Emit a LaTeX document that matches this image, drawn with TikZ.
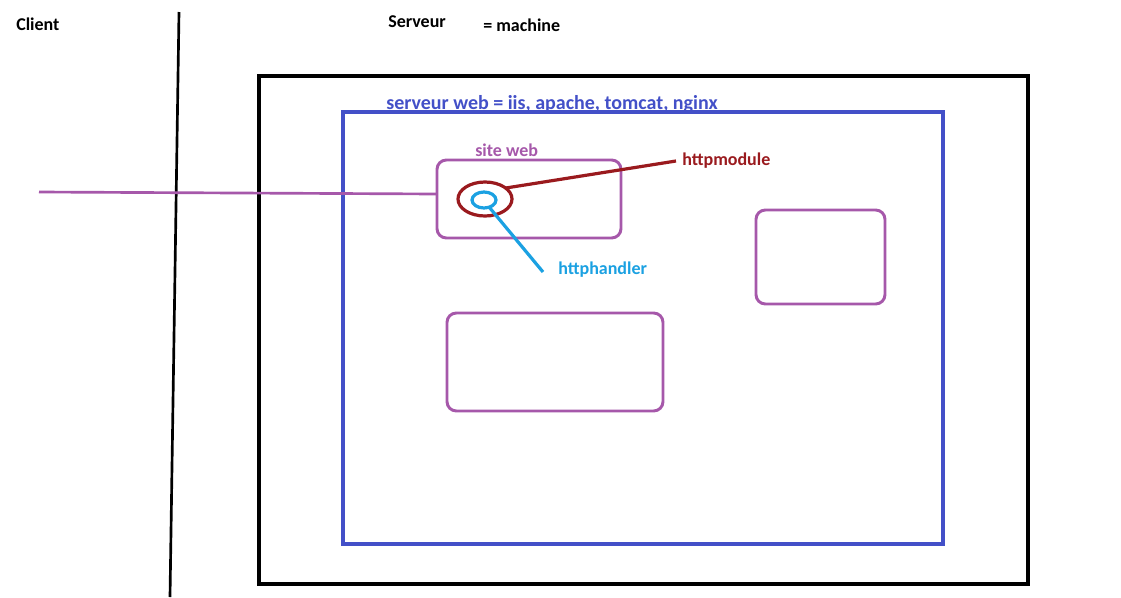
\documentclass[tikz,border=0pt]{standalone}
\usepackage{fontspec}
\setmainfont{Carlito}
\usetikzlibrary{shapes.geometric}
\definecolor{cpurple}{HTML}{A658AA}
\definecolor{cblue}{HTML}{4350C8}
\definecolor{cred}{HTML}{9A1A1E}
\definecolor{ccyan}{HTML}{1BA1E2}
\begin{document}
\begin{tikzpicture}[x=0.75pt,y=-0.75pt,
  lbl/.style={font=\fontsize{13.5}{15}\selectfont\bfseries, inner sep=0pt, anchor=west},
  site/.style={draw=cpurple, line width=2.2pt, rounded corners=7pt, rectangle, inner sep=0pt, outer sep=0pt},
  bigbox/.style={rectangle, inner sep=0pt, outer sep=0pt, line width=2.4pt},
  ring/.style={ellipse, inner sep=0pt, outer sep=0pt, line width=2.4pt}]
\useasboundingbox[fill=white] (0,0) rectangle (1121,597);
% divider
\coordinate (dtop) at (179,12);
\coordinate (dbot) at (170,597);
\draw[line width=2pt] (dtop) -- (dbot);
% labels
\node[lbl] (client) at (16,24) {Client};
\node[lbl] (serveur) at (388,22) {Serveur};
\node[lbl] (machine) at (483,25) {= machine};
% machine frame
\node[bigbox, draw=black, minimum width=576.75pt, minimum height=381pt] (mach) at (643.5,330) {};
% web server
\node[bigbox, draw=cblue, minimum width=450pt, minimum height=324pt] (web) at (643,328) {};
\node[lbl, text=cblue, font=\fontsize{15}{17}\selectfont\bfseries] (ws) at (386,104) {serveur web = iis, apache, tomcat, nginx};
% sites
\node[site, minimum width=138pt, minimum height=58.5pt] (s1) at (529,199) {};
\node[site, minimum width=96.75pt, minimum height=70.5pt] (s2) at (820.5,257) {};
\node[site, minimum width=162pt, minimum height=73.5pt] (s3) at (555,362) {};
\node[lbl, text=cpurple] (sw) at (475,150) {site web};
% request line
\coordinate (req) at (39,192);
\draw[draw=cpurple, line width=2pt] (req) -- ([yshift=3.75pt]s1.west);
% module & handler
\node[ring, draw=cred, minimum width=40.5pt, minimum height=25.5pt] (mod) at (485,199) {};
\node[ring, draw=ccyan, minimum width=18pt, minimum height=12pt] (hnd) at (484,200) {};
\node[lbl, text=cred] (hm) at (682,161) {httpmodule};
\node[lbl, text=ccyan] (hh) at (558,270) {httphandler};
\draw[draw=cred, line width=2.4pt] (mod.28) -- ([xshift=-4.5pt]hm.west);
\draw[draw=ccyan, line width=2.4pt] (hnd.-54) -- ([shift={(-15,2)}]hh.west);
\end{tikzpicture}
\end{document}
